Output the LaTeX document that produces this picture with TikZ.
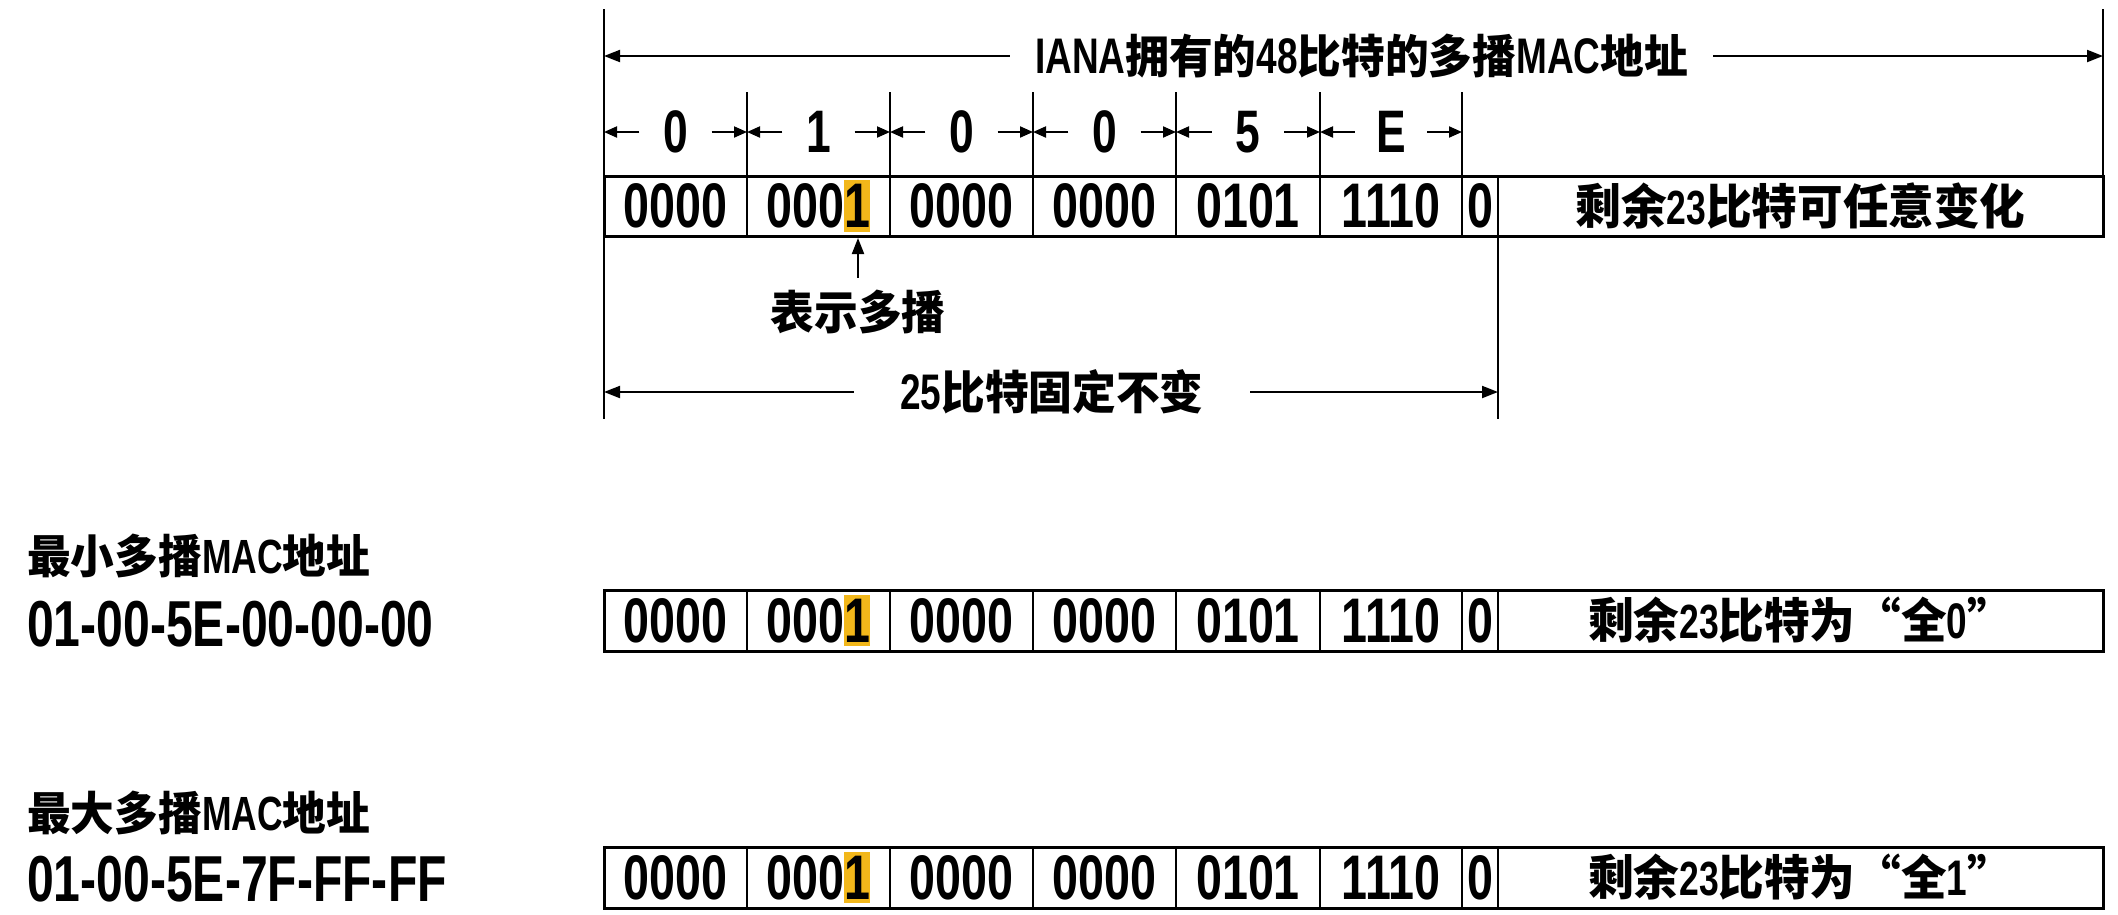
\documentclass[tikz,border=0pt]{standalone}
\usepackage{fontspec}
\setmainfont{Liberation Sans}[FakeStretch=0.74]
\newfontfamily\cjk{Noto Sans CJK SC}[FakeStretch=0.95]
\usetikzlibrary{arrows.meta}
\definecolor{hlcol}{RGB}{242,183,26}
\newcommand\numfont{\normalfont\bfseries\fontsize{63}{63}\selectfont}
\newcommand\addrfont{\normalfont\bfseries\fontsize{65}{65}\selectfont}
\newcommand\nibfont{\normalfont\bfseries\fontsize{60}{60}\selectfont}
\newcommand\cjkfont[1]{\cjk\bfseries\fontsize{#1}{#1}\selectfont}
\newcommand\mylat[2]{{\normalfont\bfseries\fontsize{#1}{#1}\selectfont #2}}
\newcommand\hlone[1]{\setbox0\hbox{#1}\rlap{\color{hlcol}\rule[-4pt]{\wd0}{\dimexpr\ht0+8pt\relax}}\box0}
\newcommand\macrow[4]{%
  \draw[boxln] (604,#2) rectangle (2103,#3);
  \foreach \xx in {747,890,1033,1176,1320,1462,1498}{\draw[thinln] (\xx,#2) -- (\xx,#3);}
  \node[cell] (#1c1) at (675.5,{(#2+#3)/2}) {0000};
  \node[cell] (#1c2) at (818.5,{(#2+#3)/2}) {000\hlone{1}};
  \node[cell] (#1c3) at (961.5,{(#2+#3)/2}) {0000};
  \node[cell] (#1c4) at (1104.5,{(#2+#3)/2}) {0000};
  \node[cell] (#1c5) at (1248,{(#2+#3)/2}) {0101};
  \node[cell] (#1c6) at (1391,{(#2+#3)/2}) {1110};
  \node[cell] (#1c7) at (1480,{(#2+#3)/2}) {0};
  \node[cjklabel,font=\cjkfont{48}] (#1c8) at (1800.5,{(#2+#3)/2}) {#4};
}
\begin{document}
\begin{tikzpicture}[x=1pt,y=-1pt,
  thinln/.style={line width=2pt},
  boxln/.style={line width=3pt},
  dimarr/.style={line width=2pt,-{Triangle[length=16pt,width=12pt]}},
  nibarr/.style={line width=2pt,-{Triangle[length=13pt,width=11pt]}},
  cell/.style={inner sep=0pt,font=\numfont},
  nib/.style={inner sep=0pt,minimum width=72pt,font=\nibfont},
  cjklabel/.style={inner sep=0pt,font=\cjkfont{46}},
  leftlabel/.style={inner sep=0pt,anchor=west},
]
\useasboundingbox (0,0) rectangle (2118,914);

% frame lines of the top part
\draw[thinln] (604,9) -- (604,419);
\draw[thinln] (2103,9) -- (2103,176);
\draw[thinln] (1498,236) -- (1498,419);
\foreach \xx in {747,890,1033,1176,1320,1462}{\draw[thinln] (\xx,92) -- (\xx,176);}

% IANA 48-bit arrow
\node[cjklabel,minimum width=703pt] (iana) at (1361.5,56)
  {\mylat{50}{IANA}拥有的\mylat{50}{48}比特的多播\mylat{50}{MAC}地址};
\coordinate (ianaL) at (604,56);
\coordinate (ianaR) at (2103,56);
\draw[dimarr] (iana) -- (ianaL);
\draw[dimarr] (iana) -- (ianaR);

% hex nibbles
\foreach \i/\xl/\xr/\t in {1/604/747/0,2/747/890/1,3/890/1033/0,4/1033/1176/0,5/1176/1320/5,6/1320/1462/E}{
  \node[nib] (nib\i) at ({(\xl+\xr)/2},132) {\t};
  \coordinate (nibL\i) at (\xl,132);
  \coordinate (nibR\i) at (\xr,132);
  \draw[nibarr] (nib\i) -- (nibL\i);
  \draw[nibarr] (nib\i) -- (nibR\i);
}

% rows
\macrow{ra}{176}{236}{剩余\mylat{48}{23}比特可任意变化}
\macrow{rb}{590}{651}{剩余\mylat{48}{23}比特为“全\mylat{50}{0}”}
\macrow{rc}{847}{908}{剩余\mylat{48}{23}比特为“全\mylat{50}{1}”}

% multicast bit marker
\node[cjklabel] (bs) at (858,312) {表示多播};
\coordinate (bsT) at (858,238);
\draw[dimarr,shorten <=12pt] (bs.north) -- (bsT);

% 25 bits fixed
\node[cjklabel,minimum width=396pt] (fx) at (1052,392) {\mylat{50}{25}比特固定不变};
\coordinate (fxL) at (604,392);
\coordinate (fxR) at (1498,392);
\draw[dimarr] (fx) -- (fxL);
\draw[dimarr] (fx) -- (fxR);

% left labels
\node[leftlabel,font=\cjkfont{46}] (minT) at (27,556) {最小多播\mylat{48}{MAC}地址};
\node[leftlabel,font=\addrfont] (minA) at (27,624) {01-00-5E-00-00-00};
\node[leftlabel,font=\cjkfont{46}] (maxT) at (27,813) {最大多播\mylat{48}{MAC}地址};
\node[leftlabel,font=\addrfont] (maxA) at (27,879) {01-00-5E-7F-FF-FF};
\end{tikzpicture}
\end{document}
